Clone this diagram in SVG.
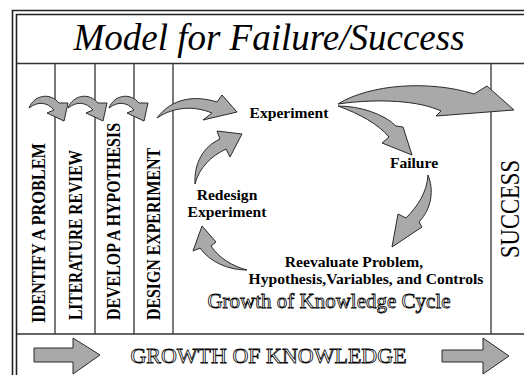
<svg xmlns="http://www.w3.org/2000/svg" width="524" height="375" viewBox="0 0 524 375">
<style>
.frame{fill:none;stroke:#222;stroke-width:1.6}
.grid{fill:none;stroke:#333;stroke-width:1.3}
.arr{fill:#a9a9a9;stroke:#2a2a2a;stroke-width:1;stroke-linejoin:miter}
.serif{font-family:Liberation Serif, serif}
.col{font-family:Liberation Serif, serif;font-weight:bold;font-size:19px;fill:#000}
.lbl{font-family:Liberation Serif, serif;font-weight:bold;font-size:15.6px;fill:#000;text-anchor:middle}
.out{font-family:Liberation Serif, serif;fill:#fff;stroke:#000;stroke-width:0.8;text-anchor:middle}
</style>
<rect width="524" height="375" fill="#fff"/>
<g id="frame">
<path class="frame" d="M12.5,380 V10.5 H530"/>
<path class="frame" d="M16.5,380 V14.5 H530"/>
<path class="grid" d="M17,63.5 H524 M17,334 H524 M55,63.5 V334 M95,63.5 V334 M134,63.5 V334 M173,63.5 V334 M491,63.5 V334"/>
</g>
<g id="title">
<text class="serif" x="269" y="50" text-anchor="middle" font-style="italic" font-size="37">Model for Failure/Success</text>
</g>
<g id="col-identify"><text class="col" transform="translate(45,323) rotate(-90)" textLength="180" lengthAdjust="spacingAndGlyphs">IDENTIFY A PROBLEM</text></g>
<g id="col-literature"><text class="col" transform="translate(82,320) rotate(-90)" textLength="170" lengthAdjust="spacingAndGlyphs">LITERATURE REVIEW</text></g>
<g id="col-hypothesis"><text class="col" transform="translate(120,320) rotate(-90)" textLength="197" lengthAdjust="spacingAndGlyphs">DEVELOP A HYPOTHESIS</text></g>
<g id="col-design"><text class="col" transform="translate(160,320) rotate(-90)" textLength="172" lengthAdjust="spacingAndGlyphs">DESIGN EXPERIMENT</text></g>
<g id="success"><text class="serif" transform="translate(519,258) rotate(-90)" font-size="27" textLength="98" lengthAdjust="spacingAndGlyphs">SUCCESS</text></g>
<g id="experiment"><text class="lbl" x="289" y="118">Experiment</text></g>
<g id="failure"><text class="lbl" x="414" y="168">Failure</text></g>
<g id="redesign"><text class="lbl" x="227" y="200">Redesign</text><text class="lbl" x="227" y="217">Experiment</text></g>
<g id="reevaluate"><text class="lbl" x="354" y="267">Reevaluate Problem,</text><text class="lbl" x="366" y="284">Hypothesis,Variables, and Controls</text></g>
<g id="cycle-label"><text class="out" x="329" y="308" font-size="21">Growth of Knowledge Cycle</text></g>
<g id="growth"><text class="out" x="268.5" y="363" font-size="22">GROWTH OF KNOWLEDGE</text></g>
<g id="connectors">
<path class="arr" d="M29,108 C34,95 50,92 59,103 L68,103 L64,121 L47,113 L54,110 C47,102 38,101 29,108 Z"/>
<path class="arr" transform="translate(39,0)" d="M29,108 C34,95 50,92 59,103 L68,103 L64,121 L47,113 L54,110 C47,102 38,101 29,108 Z"/>
<path class="arr" transform="translate(80,0)" d="M29,108 C34,95 50,92 59,103 L68,103 L64,121 L47,113 L54,110 C47,102 38,101 29,108 Z"/>
<path class="arr" d="M157,118 C172,98 195,95 217,102 L222,95 L237,112 L203,120 L212,113 C195,106 175,106 157,118 Z"/>
<path class="arr" d="M195,184 C194,163 203,147 220,139 L217,131 L242,134 L230,157 L226,149 C211,156 199,168 195,184 Z"/>
<path class="arr" d="M338,104 C370,84 430,80 474,94 L487,86 L514,110 L436,116 L441,111 C420,101 380,98 338,104 Z"/>
<path class="arr" d="M338,106 C360,106 384,114 396,126 L403,127 L412,155 L382,143 L389,137 C378,124 360,114 338,106 Z"/>
<path class="arr" d="M428,175 C434,190 432,208 419,222 L422,227 L392,247 L398,214 L406,218 C418,206 427,192 428,175 Z"/>
<path class="arr" d="M247,270 C232,266 219,258 211,246 L216,242 L202,226 L193,251 L200,248 C210,262 228,270 247,270 Z"/>
<path class="arr" d="M34,348 H73 V338 L100,355 L73,374 V362 H34 Z"/>
<path class="arr" d="M442,350 H483 V338 L509,356 L483,374 V362 H442 Z"/>
</g>
</svg>
